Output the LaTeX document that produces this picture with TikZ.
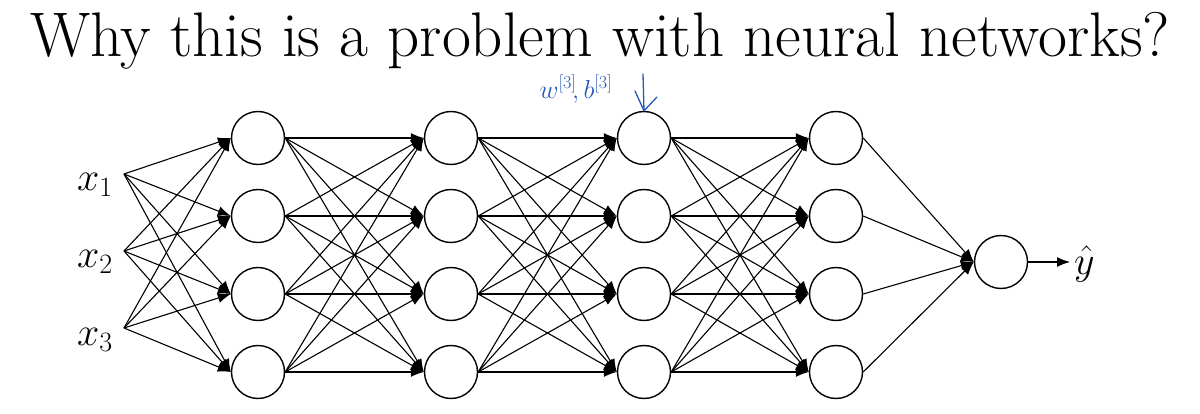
\RequirePackage{fix-cm}
\documentclass[tikz,border=0pt]{standalone}
\usepackage{fontspec}
\usetikzlibrary{arrows.meta}
\begin{document}
\begin{tikzpicture}[x=1pt,y=-1pt,
  neuron/.style={circle,draw,line width=1.4pt,minimum size=53pt,inner sep=0pt},
  link/.style={line width=1.1pt,-{Latex[length=13pt,width=10pt]}},
  lbl/.style={inner sep=0pt,font=\fontsize{40}{44}\selectfont},
  hand/.style={color=handblue,line width=1.3pt,line cap=round,line join=round}]
\definecolor{handblue}{RGB}{35,90,185}
\useasboundingbox (0,0) rectangle (1200,414);
% title
\node[inner sep=0pt,anchor=base,font=\fontsize{63}{68}\selectfont] (title) at (600,57) {Why this is a problem with neural networks?};
% inputs
\node[lbl] (x1) at (95,185) {$x_1$};
\node[lbl] (x2) at (95,262) {$x_2$};
\node[lbl] (x3) at (95,340) {$x_3$};
\coordinate (i1) at (124,174);
\coordinate (i2) at (124,251);
\coordinate (i3) at (124,328);
% hidden layers
\foreach \c/\xx in {1/258,2/451,3/644,4/836}{
  \foreach \r/\yy in {1/138,2/216,3/294,4/372}{
    \node[neuron] (n\c\r) at (\xx,\yy) {};
  }
}
% output
\node[neuron] (out) at (1001,262) {};
\node[lbl,anchor=west] (yhat) at (1074,264) {$\hat{y}$};
% connections
\foreach \i in {1,2,3}{
  \foreach \r in {1,2,3,4}{
    \draw[link] (i\i) -- (n1\r.west);
  }
}
\foreach \c/\d in {1/2,2/3,3/4}{
  \foreach \r in {1,2,3,4}{
    \foreach \s in {1,2,3,4}{
      \draw[link] (n\c\r.east) -- (n\d\s.west);
    }
  }
}
\foreach \r in {1,2,3,4}{
  \draw[link] (n4\r.east) -- (out.west);
}
\coordinate (ytip) at (1070,262);
\draw[link] (out.east) -- (ytip);
% handwritten note over the third layer
\node[color=handblue,inner sep=0pt,font=\fontsize{26}{28}\selectfont] (note) at (576,89) {$w^{[3]}\!,b^{[3]}$};
\coordinate (pt) at (643,74);
\draw[hand] (pt) -- (n31.north);
\draw[hand] (635,91) -- (n31.north) -- (657,97);
\end{tikzpicture}
\end{document}
